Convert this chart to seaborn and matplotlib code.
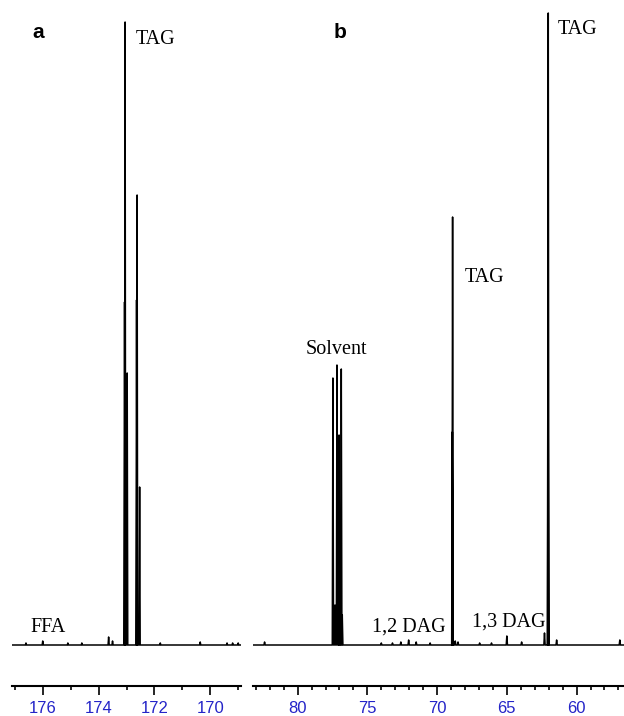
import numpy as np
import pandas as pd
import matplotlib
matplotlib.use("Agg")
import matplotlib.pyplot as plt
import seaborn as sns
from matplotlib.ticker import MultipleLocator

# --- datos leidos del espectro (ppm, intensidad relativa) ---
# panel a: region carbonilo
a_ppm = [176.6, 176.0, 175.1, 174.6, 173.64, 173.5, 173.07, 173.05, 172.975,
         172.64, 172.62, 172.53, 171.79, 170.36, 169.4, 169.2, 169.0]
a_int = [2, 4, 2, 2, 8, 4, 343, 623, 272,
         345, 450, 158, 2, 3, 2, 2, 2]

# panel b: region glicerol
b_ppm = [82.37, 77.47, 77.32, 77.18, 77.03, 76.98, 76.87, 76.8, 74.0, 73.2,
         72.6, 72.04, 71.5, 70.5, 68.91, 68.89, 68.7, 68.5, 66.95, 66.1,
         65.0, 63.94, 62.3, 62.05, 62.03, 61.43, 56.9]
b_int = [3, 267, 40, 280, 210, 42, 276, 30, 2, 2,
         3, 5, 3, 2, 213, 428, 4, 3, 2, 2,
         9, 3, 12, 350, 632, 5, 5]

a_lim = (177.1, 168.9)
b_lim = (83.2, 56.6)
a_ticks = [176, 174, 172, 170]
b_ticks = [80, 75, 70, 65, 60]

# (texto, ppm borde izquierdo, altura del centro)
etiquetas_a = [("FFA", 176.43, 17), ("TAG", 172.68, 606)]
etiquetas_b = [("Solvent", 79.43, 296), ("1,2 DAG", 74.7, 18),
               ("TAG", 68.03, 368), ("1,3 DAG", 67.53, 23), ("TAG", 61.36, 615)]


def traza(ppm, inten, lim, w):
    # picos como lineas finas sobre la linea base
    orden = np.argsort(ppm)[::-1]
    xs, ys = [lim[0]], [0]
    for i in orden:
        xs += [ppm[i] + w, ppm[i], ppm[i] - w]
        ys += [0, inten[i], 0]
    xs.append(lim[1])
    ys.append(0)
    return pd.DataFrame({"ppm": xs, "int": ys})


sns.set_style("white")
plt.rcParams["font.family"] = ["Liberation Serif", "DejaVu Serif"]

W, H = 624, 716
fig = plt.figure(figsize=(W / 100, H / 100), dpi=100)

eje_y = 686  # linea del eje en pixeles desde arriba
base = 645   # linea base del espectro


def panel(x0, x1, df, lim, ticks, etiquetas, letra, letra_x):
    ax = fig.add_axes([x0 / W, (H - eje_y) / H, (x1 - x0) / W, eje_y / H])
    sns.lineplot(data=df, x="ppm", y="int", sort=False, estimator=None,
                 color="black", lw=1.1, ax=ax)
    ax.set_xlim(*lim)
    ax.set_ylim(-(eje_y - base), base)
    ax.set_xlabel("")
    ax.set_ylabel("")
    ax.set_yticks([])
    for s in ["top", "right", "left"]:
        ax.spines[s].set_visible(False)
    ax.spines["bottom"].set_linewidth(1.5)
    ax.spines["bottom"].set_color("black")
    ax.set_xticks(ticks)
    ax.xaxis.set_minor_locator(MultipleLocator(1))
    ax.tick_params(axis="x", which="both", bottom=True)
    ax.tick_params(axis="x", which="major", direction="out", length=6.5,
                   width=1.2, color="black", pad=4, labelsize=12,
                   labelcolor="#2424c8")
    ax.tick_params(axis="x", which="minor", direction="out", length=3,
                   width=1.2, color="black")
    for lab in ax.get_xticklabels():
        lab.set_fontfamily("Liberation Sans")
    for txt, px, py in etiquetas:
        ax.text(px, py, txt, fontsize=14.5, ha="left", va="center",
                color="black", family=["Liberation Serif", "DejaVu Serif"])
    fig.text(letra_x / W, 1 - 32 / H, letra, fontsize=15, fontweight="bold",
             ha="center", va="center", color="black",
             family=["Liberation Sans", "DejaVu Sans"])
    return ax


panel(12, 241, traza(a_ppm, a_int, a_lim, 0.02), a_lim, a_ticks,
      etiquetas_a, "a", 38)
panel(253, 624, traza(b_ppm, b_int, b_lim, 0.045), b_lim, b_ticks,
      etiquetas_b, "b", 340)

fig.savefig("out.png", dpi=100)
